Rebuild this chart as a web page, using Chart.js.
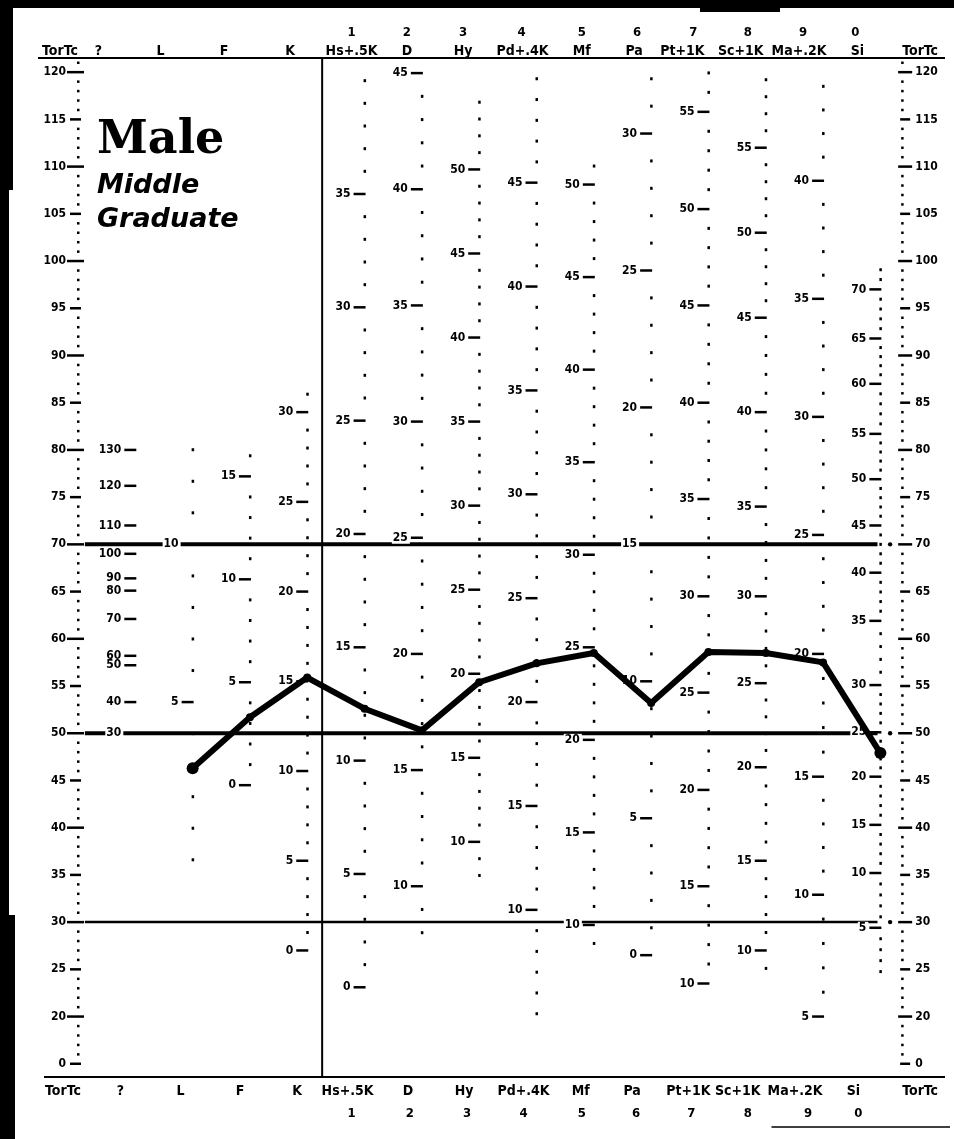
<!DOCTYPE html>
<html lang="en">
<head>
<meta charset="UTF-8">
<title>MMPI Profile - Male Middle Graduate</title>
<script src="https://cdn.jsdelivr.net/npm/chart.js"></script>
<style>
    html, body { margin: 0; padding: 0; background: #fff; overflow: hidden; }
    canvas { display: block; }
</style>
</head>
<body>
<canvas id="profile" width="954" height="1139"></canvas>
<script>
// scales across the form, left to right (column 1..14 on the x scale)
const scaleNames = ['?', 'L', 'F', 'K', 'Hs+.5K', 'D', 'Hy', 'Pd+.4K', 'Mf', 'Pa', 'Pt+1K', 'Sc+1K', 'Ma+.2K', 'Si'];
const scaleNumbers = ['', '', '', '', '1', '2', '3', '4', '5', '6', '7', '8', '9', '0'];

// plotted T scores (null = not plotted)
const profileT = [null, 46.3, 51.7, 55.9, 52.6, 50.3, 55.4, 57.4, 58.5, 53.2, 58.6, 58.5, 57.5, 47.9];

// T score axis on both sides (the bottom "0" sits one step under 20)
const tTickValues = [120, 115, 110, 105, 100, 95, 90, 85, 80, 75, 70, 65, 60, 55, 50, 45, 40, 35, 30, 25, 20, 15];
const tTickLabels = ['120', '115', '110', '105', '100', '95', '90', '85', '80', '75', '70', '65', '60', '55', '50', '45', '40', '35', '30', '25', '20', '0'];

// raw score labels printed on each column ...
const rawLabels = [
    [130, 120, 110, 100, 90, 80, 70, 60, 50, 40, 30],
    [10, 5],
    [15, 10, 5, 0],
    [30, 25, 20, 15, 10, 5, 0],
    [35, 30, 25, 20, 15, 10, 5, 0],
    [45, 40, 35, 30, 25, 20, 15, 10],
    [50, 45, 40, 35, 30, 25, 20, 15, 10],
    [45, 40, 35, 30, 25, 20, 15, 10],
    [50, 45, 40, 35, 30, 25, 20, 15, 10],
    [30, 25, 20, 15, 10, 5, 0],
    [55, 50, 45, 40, 35, 30, 25, 20, 15, 10],
    [55, 50, 45, 40, 35, 30, 25, 20, 15, 10],
    [40, 35, 30, 25, 20, 15, 10, 5],
    [70, 65, 60, 55, 50, 45, 40, 35, 30, 25, 20, 15, 10, 5]
];
// ... the T level each of those labels sits at
const rawLabelT = [
    [80, 76.2, 72, 69, 66.4, 65.1, 62.1, 58.2, 57.2, 53.3, 50],
    [70, 53.3],
    [77.2, 66.3, 55.4, 44.5],
    [84, 74.5, 65, 55.5, 46, 36.5, 27],
    [107.1, 95.1, 83.1, 71.1, 59.1, 47.1, 35.1, 23.1],
    [119.9, 107.6, 95.3, 83, 70.7, 58.4, 46.1, 33.8],
    [109.7, 100.8, 91.9, 83, 74.1, 65.2, 56.3, 47.4, 38.5],
    [108.3, 97.3, 86.3, 75.3, 64.3, 53.3, 42.3, 31.3],
    [108.1, 98.3, 88.5, 78.7, 68.9, 59.1, 49.3, 39.5, 29.7],
    [113.5, 99, 84.5, 70, 55.5, 41, 26.5],
    [115.8, 105.5, 95.3, 85, 74.8, 64.5, 54.3, 44, 33.8, 23.5],
    [112, 103, 94, 84, 74, 64.5, 55.3, 46.4, 36.5, 27],
    [108.5, 96, 83.5, 71, 58.4, 45.4, 32.9, 20],
    [97, 91.8, 87, 81.7, 76.9, 72, 67, 61.9, 55.1, 50.1, 45.4, 40.3, 35.2, 29.4]
];
// raw range covered by the small dots on each column
const rawDotRange = [null, [0, 13], [0, 16], [0, 31], [0, 40], [8, 45], [8, 54], [5, 50], [9, 51], [0, 32], [10, 57], [9, 59], [5, 44], [1, 72]];

// layout: label offsets (px) from their column
const topShift = [-37, -32, -26, -17, -13, -15, -16, -14, -12, -17, -26, -25, -24, -23];
const topNumShift = [0, 0, 0, 0, -13, -15, -16, -15, -12, -14, -15, -18, -20, -25];
const bottomShift = [-15, -12, -10, -10, -17, -14, -15, -13, -13, -19, -20, -28, -28, -27];
const bottomNumShift = [0, 0, 0, 0, -13, -12, -12, -13, -12, -15, -17, -18, -15, -22];
const RIGHT_AXIS = 14.38;
const FONT = '"DejaVu Sans Condensed", "Liberation Sans Narrow", "DejaVu Sans", sans-serif';

function rawToT(labels, ts, r) {
    const pairs = labels.map((v, k) => [v, ts[k]]).sort((a, b) => a[0] - b[0]);
    let lo = pairs[0], hi = pairs[1];
    for (let k = 0; k < pairs.length - 1; k++) {
        if (r >= pairs[k][0]) { lo = pairs[k]; hi = pairs[k + 1]; }
    }
    return lo[1] + (r - lo[0]) * (hi[1] - lo[1]) / (hi[0] - lo[0]);
}

const formPlugin = {
    id: 'form',
    beforeDatasetsDraw(chart) {
        const { ctx, chartArea: area, scales: { x, y } } = chart;
        const px = v => x.getPixelForValue(v);
        const py = v => y.getPixelForValue(v);
        ctx.save();
        ctx.fillStyle = '#000';
        ctx.strokeStyle = '#000';

        // dark scan edges
        ctx.fillRect(0, 0, 954, 8);
        ctx.fillRect(700, 0, 80, 12);
        ctx.fillRect(0, 0, 9, 1139);
        ctx.fillRect(0, 0, 13, 190);
        ctx.fillRect(0, 915, 15, 224);

        function hline(y0, x0, x1, w) {
            ctx.lineWidth = w;
            ctx.beginPath(); ctx.moveTo(x0, y0); ctx.lineTo(x1, y0); ctx.stroke();
        }

        // header and footer rules
        hline(area.top, area.left, area.right - 3, 2);
        hline(area.bottom, area.left + 6, area.right - 3, 2);
        hline(area.bottom + 50, px(12.1), 950, 1.5);

        // line between validity and clinical scales
        ctx.lineWidth = 2;
        ctx.beginPath(); ctx.moveTo(px(4.26), area.top); ctx.lineTo(px(4.26), area.bottom); ctx.stroke();

        // reference lines at T 70, 50, 30
        hline(py(70), px(0.12), px(13.95), 4);
        hline(py(50), px(0.12), px(13.95), 4);
        hline(py(30), px(0.12), px(13.95), 2.5);
        [70, 50, 30].forEach(t => { ctx.beginPath(); ctx.arc(px(14.17), py(t), 2.2, 0, Math.PI * 2); ctx.fill(); });

        // column labels
        ctx.textBaseline = 'alphabetic';
        ctx.textAlign = 'center';
        ctx.font = 'bold 14px ' + FONT;
        ctx.fillText('TorTc', px(0) - 18, area.top - 3);
        ctx.fillText('TorTc', px(RIGHT_AXIS) + 18, area.top - 3);
        ctx.fillText('TorTc', px(0) - 15, area.bottom + 18);
        ctx.fillText('TorTc', px(RIGHT_AXIS) + 18, area.bottom + 18);
        scaleNames.forEach((name, i) => {
            const cx = px(i + 1);
            ctx.font = 'bold 14px ' + FONT;
            ctx.fillText(name, cx + topShift[i], area.top - 3);
            ctx.fillText(name, cx + bottomShift[i], area.bottom + 18);
            if (scaleNumbers[i]) {
                ctx.font = 'bold 13px ' + FONT;
                ctx.fillText(scaleNumbers[i], cx + topNumShift[i], area.top - 22);
                ctx.fillText(scaleNumbers[i], cx + bottomNumShift[i], area.bottom + 40);
            }
        });

        // raw score columns
        ctx.font = 'bold 12px ' + FONT;
        ctx.textBaseline = 'middle';
        ctx.textAlign = 'right';
        scaleNames.forEach((name, i) => {
            const cx = px(i + 1);
            const labels = rawLabels[i], ts = rawLabelT[i];
            const range = rawDotRange[i];
            if (range) {
                for (let r = range[0]; r <= range[1]; r++) {
                    if (labels.includes(r)) continue;
                    const t = rawToT(labels, ts, r);
                    if (t > y.max - 0.6 || t < y.min + 0.6) continue;
                    ctx.fillRect(cx - 1, py(t) - 1.5, 2.5, 3);
                }
            }
            labels.forEach((v, k) => {
                const yy = py(ts[k]);
                const txt = String(v);
                const w = ctx.measureText(txt).width;
                ctx.fillStyle = '#fff';
                ctx.fillRect(cx - 15 - w, yy - 6, w + 3, 12);
                ctx.fillStyle = '#000';
                ctx.fillText(txt, cx - 14, yy);
                hline(yy, cx - 11, cx + 1, 2.5);
            });
        });

        // T score axes
        const lx = px(0), rx = px(RIGHT_AXIS);
        for (let t = 16; t <= 121; t++) {
            if (t % 5 === 0) continue;
            ctx.fillRect(lx - 1, py(t) - 1.2, 2.5, 2.5);
            ctx.fillRect(rx - 1, py(t) - 1.2, 2.5, 2.5);
        }
        tTickValues.forEach((t, k) => {
            const yy = py(t);
            const big = t % 10 === 0;
            hline(yy, lx - (big ? 11 : 8), lx + (big ? 6 : 3), 2.5);
            hline(yy, rx - (big ? 4 : 2), rx + (big ? 10 : 8), 2.5);
            ctx.textAlign = 'right';
            ctx.fillText(tTickLabels[k], lx - 12, yy);
            ctx.textAlign = 'left';
            ctx.fillText(tTickLabels[k], rx + 13, yy);
        });

        // norm group title
        ctx.textAlign = 'left';
        ctx.textBaseline = 'alphabetic';
        ctx.font = 'bold 46px "DejaVu Serif", serif';
        ctx.fillText('Male', px(0.33), py(111.4));
        ctx.font = 'italic bold 27px "DejaVu Sans", sans-serif';
        ctx.fillText('Middle', px(0.33), py(107.2));
        ctx.fillText('Graduate', px(0.33), py(103.6));
        ctx.restore();
    }
};

const points = profileT
    .map((t, i) => (t === null ? null : { x: i + 1, y: t }))
    .filter(p => p !== null);

new Chart(document.getElementById('profile').getContext('2d'), {
    type: 'scatter',
    data: {
        datasets: [{
            data: points,
            showLine: true,
            borderColor: '#000',
            backgroundColor: '#000',
            borderWidth: 6,
            borderJoinStyle: 'round',
            borderCapStyle: 'round',
            pointRadius: points.map((p, k) => (k === 0 || k === points.length - 1 ? 6 : 4)),
            pointBorderWidth: 0
        }]
    },
    options: {
        responsive: false,
        animation: false,
        devicePixelRatio: 1,
        layout: { padding: { left: 38, right: 6, top: 58, bottom: 62 } },
        scales: {
            x: { type: 'linear', min: -0.698, max: 15.18, display: false },
            y: { type: 'linear', min: 13.6, max: 121.5, display: false }
        },
        plugins: { legend: { display: false }, tooltip: { enabled: false } }
    },
    plugins: [formPlugin]
});
</script>
</body>
</html>
